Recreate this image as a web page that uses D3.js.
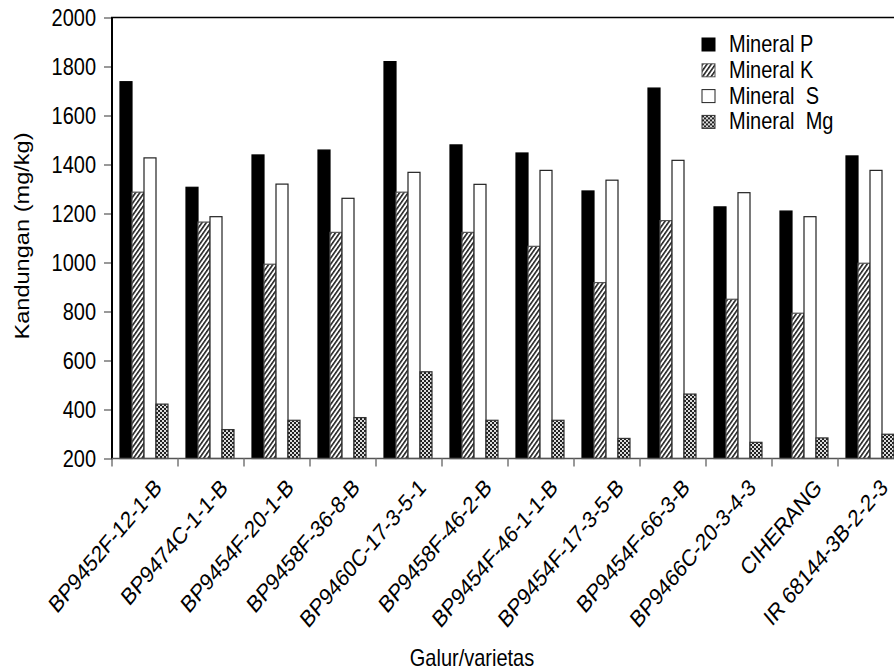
<!DOCTYPE html>
<html>
<head>
<meta charset="utf-8">
<script src="https://cdn.jsdelivr.net/npm/d3@7"></script>
<style>
  html, body { margin: 0; padding: 0; background: #fff; }
  svg { display: block; font-family: "Liberation Sans", Arial, sans-serif; }
</style>
</head>
<body>
<svg id="chart" width="894" height="671"></svg>
<script>
const categories = ["BP9452F-12-1-B","BP9474C-1-1-B","BP9454F-20-1-B","BP9458F-36-8-B","BP9460C-17-3-5-1","BP9458F-46-2-B","BP9454F-46-1-1-B","BP9454F-17-3-5-B","BP9454F-66-3-B","BP9466C-20-3-4-3","CIHERANG","IR 68144-3B-2-2-3"];
const seriesNames = ["Mineral P","Mineral K","Mineral  S","Mineral  Mg"];
const mineralP  = [1738,1307,1439,1459,1820,1480,1447,1292,1712,1227,1210,1435];
const mineralK  = [1287,1165, 993,1123,1287,1123,1066, 918,1171, 850, 793, 997];
const mineralS  = [1427,1187,1320,1262,1368,1319,1376,1336,1417,1285,1187,1376];
const mineralMg = [ 422, 318, 356, 367, 554, 356, 356, 282, 463, 266, 284, 299];
const yTicks = [200,400,600,800,1000,1200,1400,1600,1800,2000];
const yTitle = "Kandungan (mg/kg)";
const xTitle = "Galur/varietas";

const seriesValues = [mineralP, mineralK, mineralS, mineralMg];
const fills = ["#000", "url(#patK)", "#fff", "url(#patMg)"];
const strokes = ["#000", "#555", "#222", "#333"];
const SY = 1.18; // vertical stretch of text seen in the reference

const svg = d3.select("#chart");
const defs = svg.append("defs");
const pk = defs.append("pattern").attr("id","patK").attr("patternUnits","userSpaceOnUse")
  .attr("width",3.5).attr("height",3.5).attr("patternTransform","rotate(35)");
pk.append("rect").attr("width",3.5).attr("height",3.5).attr("fill","#fff");
pk.append("rect").attr("width",1.6).attr("height",3.5).attr("fill","#222");
const pm = defs.append("pattern").attr("id","patMg").attr("patternUnits","userSpaceOnUse")
  .attr("width",4).attr("height",4);
pm.append("rect").attr("width",4).attr("height",4).attr("fill","#ddd");
pm.append("rect").attr("width",2).attr("height",2).attr("fill","#222");
pm.append("rect").attr("x",2).attr("y",2).attr("width",2).attr("height",2).attr("fill","#222");

const plotLeft = 112, plotTop = 17.5, plotBottom = 458.5, step = 66;
const x0 = d3.scaleBand().domain(categories)
  .range([plotLeft, plotLeft + step * categories.length])
  .paddingInner(18/66).paddingOuter(9/66);
const x1 = d3.scaleBand().domain(seriesNames).range([0, x0.bandwidth()]);
const y = d3.scaleLinear().domain([200, 2000]).range([plotBottom, plotTop]);

// bars
const groups = svg.append("g").selectAll("g").data(categories).join("g")
  .attr("transform", c => `translate(${x0(c) - 1},0)`);
groups.selectAll("rect")
  .data((c, i) => seriesNames.map((s, k) => ({ s, k, v: seriesValues[k][i] })))
  .join("rect")
  .attr("x", d => x1(d.s))
  .attr("width", x1.bandwidth())
  .attr("y", d => y(d.v))
  .attr("height", d => y(200) - y(d.v))
  .attr("fill", d => fills[d.k])
  .attr("stroke", d => strokes[d.k])
  .attr("stroke-width", 1.2);

// y axis
const yAxis = d3.axisLeft(y).tickValues(yTicks).tickSize(8).tickPadding(8).tickFormat(d3.format("d"));
const gy = svg.append("g").attr("transform", `translate(${plotLeft},0)`).call(yAxis);
gy.select(".domain").remove();
gy.selectAll(".tick line").attr("stroke", "#777").attr("stroke-width", 1.5);
gy.selectAll(".tick text").attr("font-size", 20).attr("fill", "#000")
  .attr("font-family", "'Liberation Sans', Arial, sans-serif")
  .attr("dy", "0.36em")
  .attr("transform", `scale(1,${SY})`);
svg.append("line").attr("x1", plotLeft).attr("x2", plotLeft).attr("y1", plotTop).attr("y2", plotBottom + 1)
  .attr("stroke", "#000").attr("stroke-width", 2);

// top frame
svg.append("line").attr("x1", plotLeft - 1).attr("x2", 894).attr("y1", plotTop).attr("y2", plotTop)
  .attr("stroke", "#000").attr("stroke-width", 1.6);

// x axis line and boundary ticks
svg.append("line").attr("x1", plotLeft).attr("x2", plotLeft + step * categories.length)
  .attr("y1", plotBottom).attr("y2", plotBottom).attr("stroke", "#555").attr("stroke-width", 1.5);
const boundaries = d3.range(categories.length + 1).map(i => i === 0 ? plotLeft : x0(categories[i - 1]) + x0.bandwidth() + 9);
svg.append("g").selectAll("line").data(boundaries).join("line")
  .attr("x1", d => d).attr("x2", d => d).attr("y1", plotBottom).attr("y2", plotBottom + 8)
  .attr("stroke", "#777").attr("stroke-width", 1.5);

// x labels rotated
svg.append("g").selectAll("text").data(categories).join("text")
  .attr("transform", c => `translate(${x0(c) + x0.bandwidth() / 2 + 18},${489}) scale(1,${SY}) rotate(-45)`)
  .attr("text-anchor", "end")
  .attr("font-size", 20)
  .attr("fill", "#000")
  .text(c => c);

// titles
svg.append("text").attr("transform", `translate(29,236) scale(1,${SY}) rotate(-90)`)
  .attr("text-anchor", "middle").attr("font-size", 20).text(yTitle);
svg.append("text").attr("transform", `translate(472,666) scale(1,${SY})`)
  .attr("text-anchor", "middle").attr("font-size", 20).text(xTitle);

// legend
const lg = svg.append("g").attr("transform", "translate(702,38)");
const rows = lg.selectAll("g").data(seriesNames).join("g")
  .attr("transform", (d, i) => `translate(0,${i * 25.8})`);
rows.append("rect").attr("width", 13).attr("height", 13)
  .attr("fill", (d, i) => fills[i]).attr("stroke", (d, i) => strokes[i]).attr("stroke-width", 1);
rows.append("text").attr("transform", `translate(27,14) scale(1,${SY})`).attr("font-size", 20)
  .style("white-space", "pre").attr("xml:space", "preserve").text(d => d);
</script>
</body>
</html>
